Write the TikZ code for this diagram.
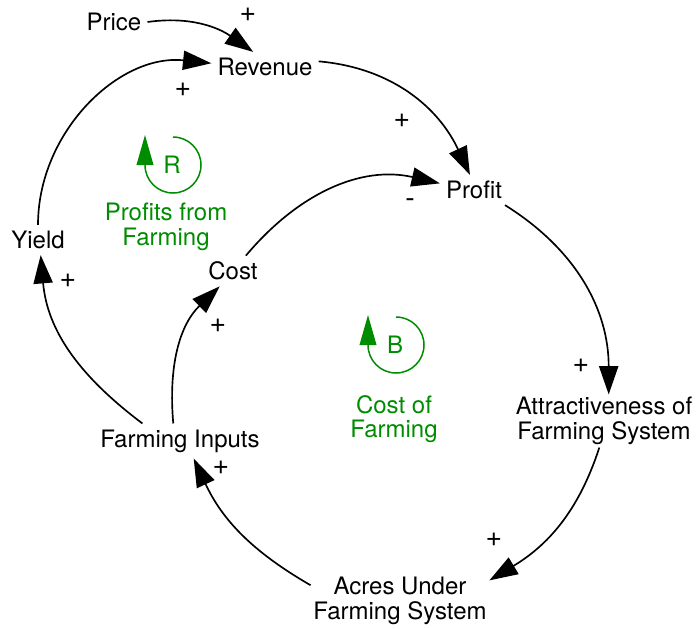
\documentclass[tikz,border=0pt]{standalone}
\usepackage{fontspec}
\setmainfont{TeX Gyre Heros}
\usetikzlibrary{arrows.meta}
\definecolor{loopgreen}{RGB}{0,140,0}

\begin{document}
\begin{tikzpicture}[x=0.6pt, y=0.6pt,
        var/.style={font=\fontsize{14.4}{14.8}\selectfont, inner sep=3.5pt, align=center},
        varlong/.style={var, inner sep=1.5pt},
        sign/.style={font=\fontsize{17}{17}\selectfont, inner sep=0pt},
        link/.style={line width=1pt, -{Triangle[length=17pt, width=11.5pt]}},
        looparrow/.style={loopgreen, line width=0.9pt, -{Triangle[length=18pt, width=10pt]}},
        looplabel/.style={var, text=loopgreen}]
        \def\loopr{28}
        \useasboundingbox (0,0) rectangle (697,628);
        % Variablen
        \node[var] (price) at (114,606) {Price};
        \node[var] (revenue) at (265,561) {Revenue};
        \node[var] (profit) at (474,438) {Profit};
        \node[var] (yield) at (38,388) {Yield};
        \node[var] (cost) at (233,357) {Cost};
        \node[var] (inputs) at (180,187) {Farming Inputs};
        \node[varlong] (attract) at (604,207) {Attractiveness of\\Farming System};
        \node[varlong] (acres) at (400,27) {Acres Under\\Farming System};
        % Pfeile
        \draw[link] (price.east) to[out=8, in=145] (revenue.128);
        \draw[link] (yield.north) to[out=90, in=174] (revenue.176);
        \draw[link] (revenue.6) to[out=-5, in=115] (profit.105);
        \draw[link] (cost.50) to[out=50, in=167] (profit.169);
        \draw[link] (profit.-26) to[out=-32, in=90] (attract.80);
        \draw[link] (attract.-100) to[out=-108, in=31] (acres.13);
        \draw[link] (acres.170) to[out=150, in=-65] (inputs.-52);
        \draw[link] (inputs.111) to[out=95, in=224] (cost.-131);
        \draw[link] (inputs.155) to[out=143, in=-85] (yield.-80);
        % Polaritaeten
        \node[sign] (s1) at (248,613) {+};
        \node[sign] (s2) at (183,538) {+};
        \node[sign] (s3) at (402,507) {+};
        \node[sign] (s4) at (410,425) {-};
        \node[sign] (s5) at (68,347) {+};
        \node[sign] (s6) at (218,302) {+};
        \node[sign] (s7) at (581,262) {+};
        \node[sign] (s8) at (494,88) {+};
        \node[sign] (s9) at (221,160) {+};
        % Schleife R
        \draw[looparrow] (173,463) ++(90:\loopr) arc[start angle=90, end angle=-180, radius=\loopr] -- ++(0,30);
        \node[looplabel] (rmark) at (172,463) {R};
        \node[looplabel] (rname) at (166,401) {Profits from\\Farming};
        % Schleife B
        \draw[looparrow] (396,283) ++(90:\loopr) arc[start angle=90, end angle=-180, radius=\loopr] -- ++(0,30);
        \node[looplabel] (bmark) at (395,283) {B};
        \node[looplabel] (bname) at (394,209) {Cost of\\Farming};
\end{tikzpicture}
\end{document}
